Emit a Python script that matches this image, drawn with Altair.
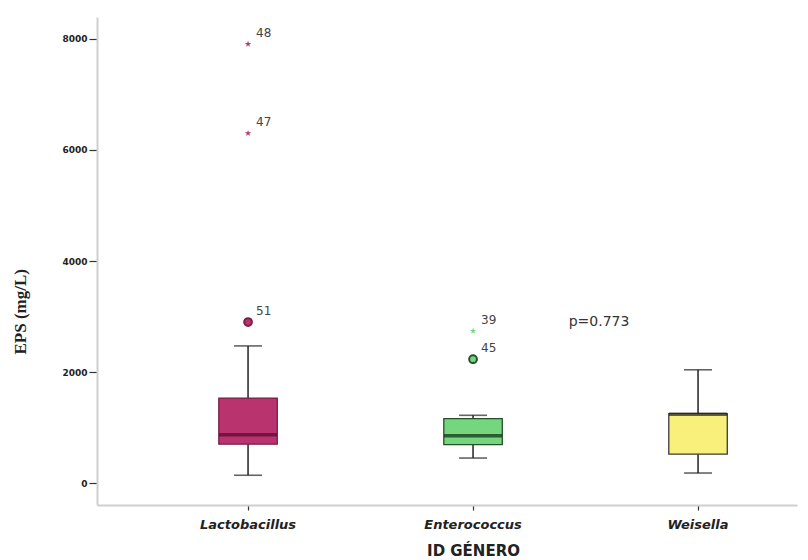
import altair as alt
import pandas as pd

# ---- data ----
genera = ["Lactobacillus", "Enterococcus", "Weisella"]
whisker_low = [140, 450, 180]
q1 = [700, 690, 520]
median = [870, 850, 1240]
q3 = [1530, 1160, 1250]
whisker_high = [2470, 1220, 2040]

out_genus = ["Lactobacillus", "Lactobacillus", "Lactobacillus", "Enterococcus", "Enterococcus"]
out_value = [7910, 6300, 2900, 2740, 2230]
out_label = ["48", "47", "51", "39", "45"]
out_kind = ["extreme", "extreme", "outlier", "extreme", "outlier"]

p_genus = ["Enterococcus"]
p_value = [2900]
p_text = ["p=0.773"]

y_ticks = [0, 2000, 4000, 6000, 8000]

fill_colors = ["#B9336F", "#74D67E", "#F8F07A"]
stroke_colors = ["#7a2048", "#24502a", "#3a3a3a"]
median_colors = ["#55092b", "#10280f", "#222222"]

box_df = pd.DataFrame({
    "genus": genera, "wlo": whisker_low, "q1": q1, "med": median,
    "q3": q3, "whi": whisker_high,
})
out_df = pd.DataFrame({"genus": out_genus, "value": out_value,
                       "label": out_label, "kind": out_kind})
p_df = pd.DataFrame({"genus": p_genus, "value": p_value, "label": p_text})

xscale = alt.Scale(domain=genera, paddingInner=0.74, paddingOuter=0.4256, align=0.636)
yscale = alt.Scale(domain=[-396, 8396], nice=False, zero=False)

x_axis = alt.Axis(
    title="ID GÉNERO", labelAngle=0,
    labelFont="DejaVu Sans", labelFontSize=13, labelFontWeight="bold",
    labelFontStyle="italic", labelColor="#222222", labelPadding=8,
    tickColor="#333333", tickSize=5, tickWidth=1.2,
    domainColor="#cfcfcf", domainWidth=2,
    titleFont="DejaVu Sans", titleFontSize=15, titleFontWeight="bold",
    titleColor="#222222", titleX=376, titleY=38, titleBaseline="top",
    titleAnchor="start", titleAlign="center",
)
y_axis = alt.Axis(
    title="EPS (mg/L)", values=y_ticks, grid=False, format="d",
    labelFont="DejaVu Sans", labelFontSize=9, labelFontWeight="bold",
    labelColor="#222222", labelPadding=2,
    tickColor="#333333", tickSize=8, tickWidth=1.2,
    domainColor="#cfcfcf", domainWidth=2,
    titleFont="Liberation Serif", titleFontSize=17, titleFontWeight="bold",
    titleColor="#222222", titleX=-68, titleY=337, titleAnchor="start",
)

X = alt.X("genus:N", scale=xscale, axis=x_axis, sort=genera)
Xn = alt.X("genus:N", scale=xscale, sort=genera)

base = alt.Chart(box_df)

whisk = base.mark_rule(color="#222222", strokeWidth=1.5).encode(
    x=X, y=alt.Y("wlo:Q", scale=yscale, axis=y_axis), y2="whi:Q")

cap_lo = base.mark_tick(color="#222222", size=28, thickness=1.6).encode(
    x=Xn, y=alt.Y("wlo:Q", scale=yscale))
cap_hi = base.mark_tick(color="#222222", size=28, thickness=1.6).encode(
    x=Xn, y=alt.Y("whi:Q", scale=yscale))

box = base.mark_bar(strokeWidth=1.3).encode(
    x=Xn, y=alt.Y("q1:Q", scale=yscale), y2="q3:Q",
    fill=alt.Fill("genus:N", scale=alt.Scale(domain=genera, range=fill_colors), legend=None),
    stroke=alt.Stroke("genus:N", scale=alt.Scale(domain=genera, range=stroke_colors), legend=None),
)

med = base.mark_tick(size=58, thickness=3.5).encode(
    x=Xn, y=alt.Y("med:Q", scale=yscale),
    color=alt.Color("genus:N", scale=alt.Scale(domain=genera, range=median_colors), legend=None),
)

circ = alt.Chart(out_df).transform_filter(alt.datum.kind == "outlier").mark_point(
    shape="circle", filled=True, size=60, strokeWidth=2, opacity=1).encode(
    x=Xn, y=alt.Y("value:Q", scale=yscale),
    fill=alt.Fill("genus:N", scale=alt.Scale(domain=genera, range=["#8e2a57", "#c9efcf", "#eeee88"]), legend=None),
    stroke=alt.Stroke("genus:N", scale=alt.Scale(domain=genera, range=["#7a2048", "#3c8a47", "#888800"]), legend=None),
)

star_path = "M0,-1L0.22,-0.31L0.95,-0.31L0.36,0.12L0.59,0.81L0,0.38L-0.59,0.81L-0.36,0.12L-0.95,-0.31L-0.22,-0.31Z"
stars = alt.Chart(out_df).transform_filter(alt.datum.kind == "extreme").mark_point(
    shape=star_path, filled=True, size=45, opacity=1).encode(
    x=Xn, y=alt.Y("value:Q", scale=yscale),
    fill=alt.Fill("genus:N", scale=alt.Scale(domain=genera, range=["#e38cb0", "#a8e8d0", "#eeee88"]), legend=None),
)

labels = alt.Chart(out_df).mark_text(
    align="left", baseline="middle", dx=8, dy=-11, fontSize=12,
    font="DejaVu Sans", color="#444444").encode(
    x=Xn, y=alt.Y("value:Q", scale=yscale), text="label:N")

ptext = alt.Chart(p_df).mark_text(
    align="center", baseline="middle", dx=126, fontSize=14,
    font="DejaVu Sans", color="#333333").encode(
    x=Xn, y=alt.Y("value:Q", scale=yscale), text="label:N")

chart = alt.layer(whisk, box, med, cap_lo, cap_hi, circ, stars, labels, ptext).properties(
    width=700, height=488,
    autosize=alt.AutoSizeParams(type="none"),
    padding={"left": 89, "top": 9, "right": 3, "bottom": 53},
    background="white",
).configure_view(stroke=None)

chart.save("out.html", embed_options={"renderer": "svg", "actions": False})
